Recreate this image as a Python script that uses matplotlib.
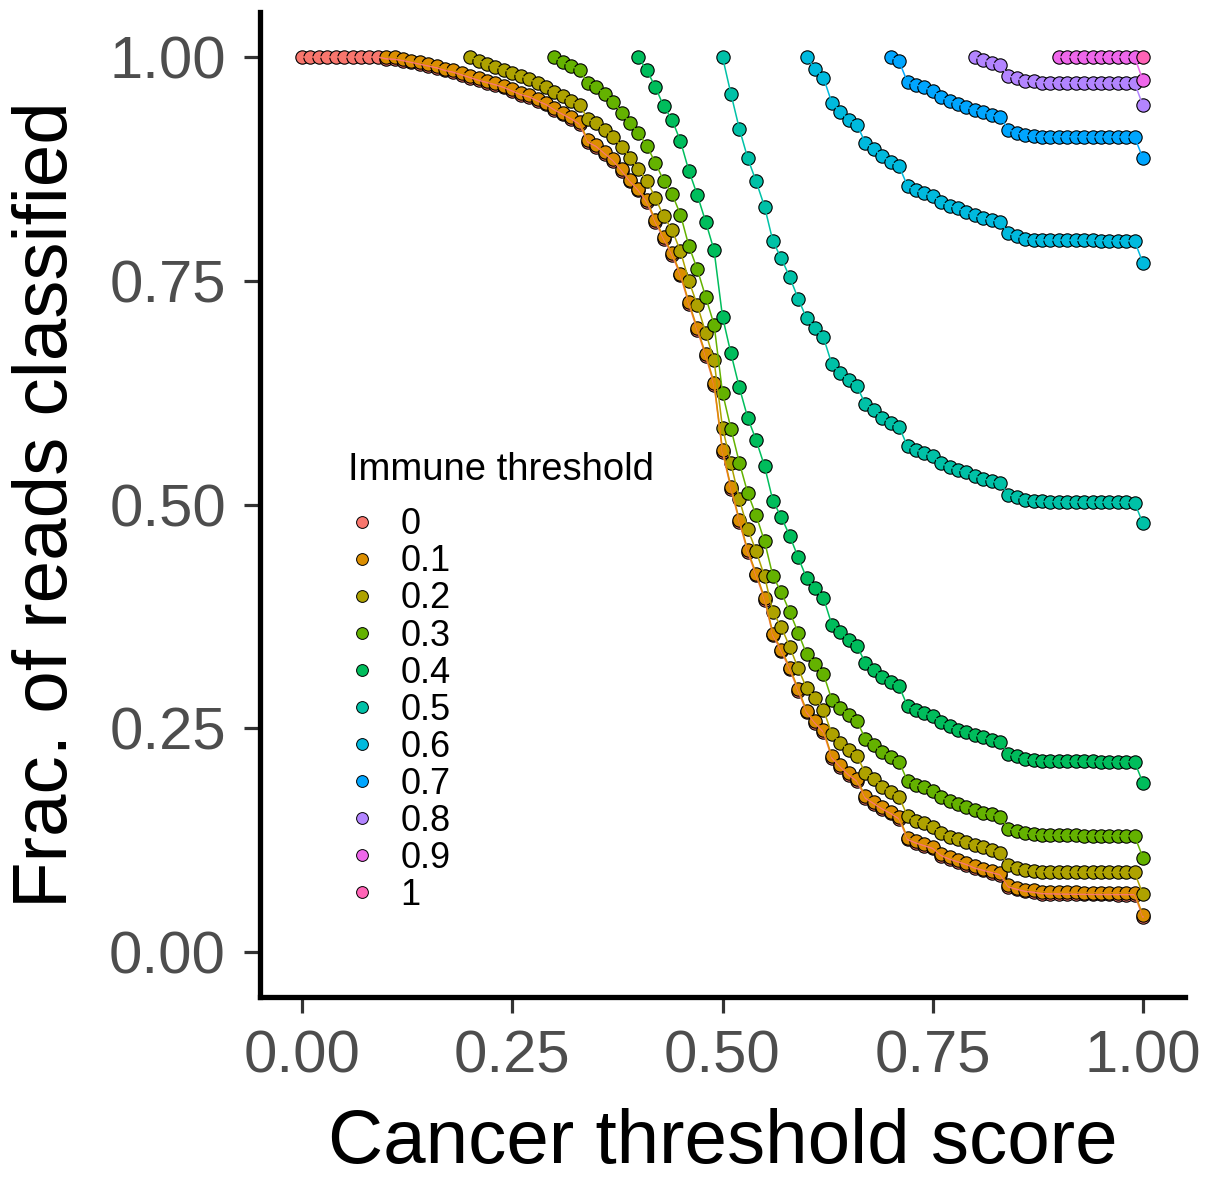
import numpy as np
import matplotlib
matplotlib.use("Agg")
import matplotlib.pyplot as plt
from matplotlib.lines import Line2D

plt.rcParams['font.family'] = ['Liberation Sans', 'DejaVu Sans']

# ---------------- data ----------------
immune_levels = ["0", "0.1", "0.2", "0.3", "0.4", "0.5", "0.6", "0.7", "0.8", "0.9", "1"]
immune_starts = [0.0, 0.1, 0.2, 0.3, 0.4, 0.5, 0.6, 0.7, 0.8, 0.9, 1.0]
colors = ["#F8766D", "#DB8E00", "#AEA200", "#64B200", "#00BD5C", "#00C1A7",
          "#00BADE", "#00A6FF", "#B385FF", "#EF67EB", "#FF63B6"]

# fraction of reads classified, one value per cancer threshold (step 0.01) from start to 1.00
frac_0 = [1.000, 1.000, 1.000, 1.000, 1.000, 1.000, 1.000, 1.000, 1.000, 1.000,
          0.998, 0.9975, 0.996, 0.994, 0.992, 0.990, 0.988, 0.985, 0.983, 0.980,
          0.977, 0.974, 0.9715, 0.969, 0.966, 0.962, 0.958, 0.9555, 0.951, 0.947,
          0.941, 0.936, 0.931, 0.925, 0.905, 0.900, 0.892, 0.884, 0.873, 0.861,
          0.851, 0.838, 0.816, 0.797, 0.779, 0.756, 0.724, 0.695, 0.666, 0.634,
          0.559, 0.518, 0.481, 0.447, 0.421, 0.394, 0.354, 0.336, 0.316, 0.292,
          0.268, 0.256, 0.246, 0.217, 0.207, 0.198, 0.191, 0.172, 0.166, 0.160,
          0.155, 0.149, 0.126, 0.122, 0.119, 0.116, 0.108, 0.104, 0.101, 0.098,
          0.094, 0.0915, 0.089, 0.0866, 0.073, 0.0703, 0.068, 0.067, 0.0655, 0.0652,
          0.0650, 0.0649, 0.0648, 0.0647, 0.0646, 0.0645, 0.0645, 0.0644, 0.0644, 0.0643,
          0.0395]
frac_01 = [1.000, 0.9995, 0.998, 0.996, 0.994, 0.992, 0.990, 0.987, 0.985, 0.982,
           0.979, 0.976, 0.9735, 0.971, 0.968, 0.964, 0.960, 0.9575, 0.953, 0.949,
           0.943, 0.938, 0.933, 0.927, 0.907, 0.902, 0.894, 0.886, 0.875, 0.863,
           0.853, 0.840, 0.818, 0.799, 0.781, 0.758, 0.726, 0.697, 0.668, 0.636,
           0.561, 0.520, 0.483, 0.449, 0.423, 0.396, 0.356, 0.338, 0.318, 0.294,
           0.270, 0.258, 0.248, 0.219, 0.209, 0.200, 0.193, 0.174, 0.168, 0.162,
           0.157, 0.151, 0.128, 0.124, 0.121, 0.118, 0.110, 0.106, 0.103, 0.100,
           0.096, 0.0935, 0.091, 0.0886, 0.075, 0.0723, 0.070, 0.069, 0.0675, 0.0672,
           0.0670, 0.0669, 0.0668, 0.0667, 0.0666, 0.0665, 0.0665, 0.0664, 0.0664, 0.0663,
           0.0413]
frac_02 = [1.000, 0.996, 0.992, 0.989, 0.986, 0.982, 0.979, 0.975, 0.971, 0.966,
           0.961, 0.956, 0.951, 0.946, 0.931, 0.926, 0.919, 0.911, 0.900, 0.887,
           0.875, 0.862, 0.843, 0.822, 0.807, 0.783, 0.750, 0.723, 0.692, 0.661,
           0.586, 0.546, 0.506, 0.473, 0.448, 0.420, 0.380, 0.363, 0.341, 0.317,
           0.295, 0.284, 0.271, 0.244, 0.234, 0.226, 0.219, 0.200, 0.194, 0.185,
           0.179, 0.1735, 0.152, 0.147, 0.144, 0.140, 0.133, 0.129, 0.126, 0.123,
           0.120, 0.117, 0.114, 0.111, 0.097, 0.0946, 0.0924, 0.091, 0.0900, 0.0898,
           0.0897, 0.0896, 0.0895, 0.0894, 0.0893, 0.0893, 0.0892, 0.0892, 0.0891, 0.0891,
           0.0648]
frac_03 = [1.000, 0.994, 0.990, 0.985, 0.971, 0.966, 0.959, 0.950, 0.938, 0.926,
           0.915, 0.901, 0.882, 0.862, 0.847, 0.824, 0.789, 0.763, 0.732, 0.701,
           0.625, 0.585, 0.547, 0.513, 0.488, 0.459, 0.420, 0.402, 0.380, 0.357,
           0.333, 0.322, 0.311, 0.282, 0.273, 0.265, 0.258, 0.238, 0.231, 0.224,
           0.218, 0.213, 0.191, 0.187, 0.1845, 0.1805, 0.173, 0.169, 0.1654, 0.1624,
           0.1587, 0.1556, 0.1542, 0.1512, 0.138, 0.1355, 0.1333, 0.132, 0.1310, 0.1308,
           0.1307, 0.1306, 0.1305, 0.1304, 0.1303, 0.1302, 0.1301, 0.1300, 0.1300, 0.1299,
           0.1058]
frac_04 = [1.000, 0.985, 0.967, 0.945, 0.930, 0.906, 0.873, 0.846, 0.816, 0.784,
           0.710, 0.669, 0.631, 0.597, 0.572, 0.543, 0.504, 0.486, 0.465, 0.441,
           0.418, 0.407, 0.396, 0.366, 0.358, 0.349, 0.342, 0.323, 0.3155, 0.308,
           0.302, 0.297, 0.275, 0.2707, 0.2674, 0.2637, 0.2567, 0.2525, 0.2488, 0.2462,
           0.2425, 0.2399, 0.2369, 0.235, 0.2212, 0.219, 0.2153, 0.2145, 0.2138, 0.2136,
           0.2135, 0.2134, 0.2133, 0.2132, 0.2131, 0.2130, 0.2130, 0.2129, 0.2129, 0.2128,
           0.1892]
frac_05 = [1.000, 0.959, 0.920, 0.887, 0.861, 0.833, 0.794, 0.775, 0.754, 0.730,
           0.708, 0.697, 0.687, 0.657, 0.647, 0.639, 0.632, 0.612, 0.606, 0.597,
           0.591, 0.587, 0.565, 0.561, 0.558, 0.554, 0.546, 0.542, 0.539, 0.536,
           0.532, 0.529, 0.526, 0.524, 0.511, 0.509, 0.505, 0.504, 0.5035, 0.5033,
           0.5032, 0.5031, 0.5030, 0.5029, 0.5028, 0.5027, 0.5026, 0.5025, 0.5024, 0.5023,
           0.479]
frac_06 = [1.000, 0.987, 0.977, 0.949, 0.939, 0.930, 0.924, 0.904, 0.897, 0.889,
           0.883, 0.878, 0.856, 0.851, 0.848, 0.845, 0.838, 0.834, 0.831, 0.827,
           0.823, 0.820, 0.818, 0.816, 0.803, 0.800, 0.797, 0.796, 0.7957, 0.7956,
           0.7955, 0.7954, 0.7953, 0.7952, 0.7951, 0.7950, 0.7949, 0.7948, 0.7947, 0.7946,
           0.770]
frac_07 = [1.000, 0.995, 0.972, 0.969, 0.966, 0.962, 0.955, 0.951, 0.948, 0.944,
           0.941, 0.939, 0.935, 0.933, 0.919, 0.915, 0.913, 0.9115, 0.9112, 0.9111,
           0.9110, 0.9110, 0.9109, 0.9109, 0.9108, 0.9108, 0.9107, 0.9107, 0.9106, 0.9106,
           0.887]
frac_08 = [1.000, 0.9966, 0.9936, 0.991, 0.979, 0.976, 0.9735, 0.973, 0.9715, 0.9714,
           0.9713, 0.9713, 0.9712, 0.9712, 0.9711, 0.9711, 0.9710, 0.9710, 0.9710, 0.9709,
           0.946]
frac_09 = [1.000, 1.000, 1.000, 1.000, 1.000, 1.000, 1.000, 1.000, 1.000, 1.000,
           0.974]
frac_1 = [1.000]

series_values = [frac_0, frac_01, frac_02, frac_03, frac_04, frac_05,
                 frac_06, frac_07, frac_08, frac_09, frac_1]

x_ticks = [0.00, 0.25, 0.50, 0.75, 1.00]
y_ticks = [0.00, 0.25, 0.50, 0.75, 1.00]
tick_labels = ["0.00", "0.25", "0.50", "0.75", "1.00"]

# ---------------- figure ----------------
W, H = 1214, 1177
fig = plt.figure(figsize=(W / 100, H / 100), dpi=100)
ax = fig.add_axes([260 / W, 180 / H, 925 / W, (997 - 12.25) / H])

xs_all = []
for start, vals in zip(immune_starts, series_values):
    n = len(vals)
    xs_all.append(np.round(start + 0.01 * np.arange(n), 2))

# points first, then lines on top (as in reference)
for xs, vals, col in zip(xs_all, series_values, colors):
    ax.scatter(xs, vals, s=92, facecolor=col, edgecolor='black', linewidth=0.8, zorder=2)
for xs, vals, col in zip(xs_all, series_values, colors):
    ax.plot(xs, vals, color=col, linewidth=1.1, zorder=3)

ax.set_xlim(-0.05, 1.05)
ax.set_ylim(-0.05, 1.05)
ax.set_xticks(x_ticks)
ax.set_xticklabels(tick_labels)
ax.set_yticks(y_ticks)
ax.set_yticklabels(tick_labels)

for s in ['top', 'right']:
    ax.spines[s].set_visible(False)
for s in ['left', 'bottom']:
    ax.spines[s].set_linewidth(3.8)
    ax.spines[s].set_color('black')

ax.tick_params(axis='both', length=11.5, width=2.3, color='#333333',
               labelsize=43, labelcolor='#4D4D4D')
ax.tick_params(axis='x', pad=12)
ax.tick_params(axis='y', pad=13)

ax.set_xlabel('Cancer threshold score', fontsize=55, labelpad=17)
ax.set_ylabel('Frac. of reads classified', fontsize=55, labelpad=19)

handles = [Line2D([], [], linestyle='none', marker='o', markersize=8.5,
                  markerfacecolor=c, markeredgecolor='black', markeredgewidth=0.7)
           for c in colors]
leg = ax.legend(handles, immune_levels, title='Immune threshold',
                loc='upper left', bbox_to_anchor=(348 / W, 1 - 452 / H),
                bbox_transform=fig.transFigure, frameon=False,
                fontsize=26, title_fontsize=27.5, borderpad=0, borderaxespad=0,
                handlelength=0.8, handletextpad=0.65, labelspacing=0.056,
                alignment='left')
leg._legend_box.sep = 14

fig.savefig('out.png', dpi=100)
